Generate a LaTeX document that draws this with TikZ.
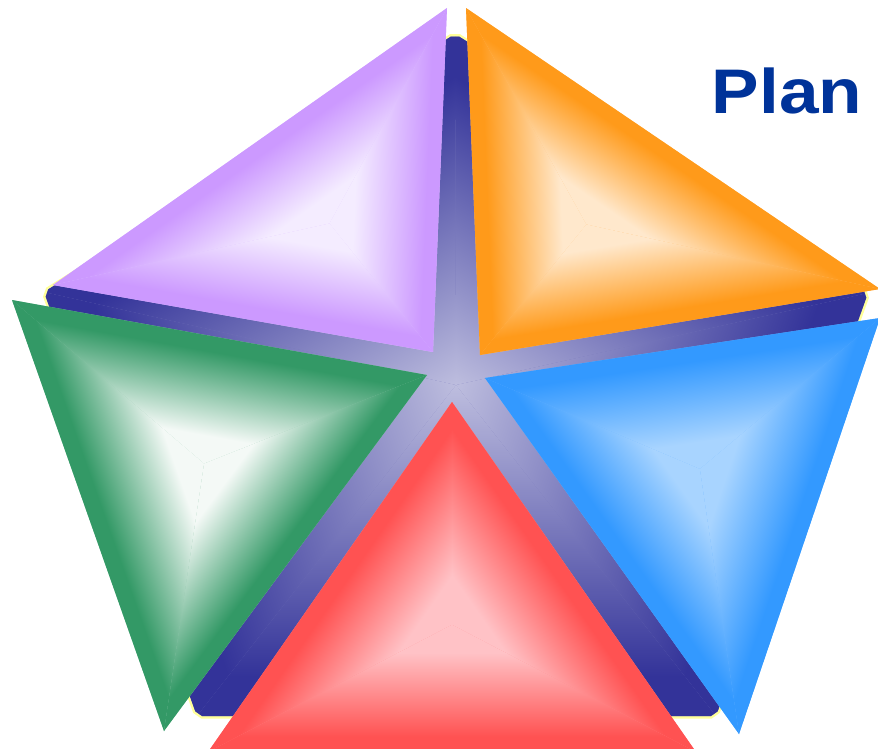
\documentclass[tikz,border=0pt]{standalone}
\usepackage{fontspec}
\setmainfont{Liberation Sans}
\usetikzlibrary{calc}

\definecolor{navy}{HTML}{333399}
\definecolor{lav}{HTML}{CDCDE6}
\definecolor{rim}{HTML}{FFFF99}
\definecolor{planblue}{HTML}{003399}
\definecolor{cpur}{HTML}{CC99FF}\definecolor{lpur}{HTML}{F4ECFF}
\definecolor{cora}{HTML}{FF9A1A}\definecolor{lora}{HTML}{FFE8CC}
\definecolor{cgre}{HTML}{339966}\definecolor{lgre}{HTML}{F4F9F6}
\definecolor{cblu}{HTML}{3399FF}\definecolor{lblu}{HTML}{A8D4FF}
\definecolor{cred}{HTML}{FF5252}\definecolor{lred}{HTML}{FFC2C6}

\pgfdeclareverticalshading{bvnavy}{100bp}{color(0bp)=(navy); color(25bp)=(navy); color(31bp)=(navy); color(80bp)=(lav); color(100bp)=(lav)}
\pgfdeclareverticalshading{bvpur}{100bp}{color(0bp)=(cpur); color(25bp)=(cpur); color(31bp)=(cpur); color(64bp)=(lpur); color(100bp)=(lpur)}
\pgfdeclareverticalshading{bvora}{100bp}{color(0bp)=(cora); color(25bp)=(cora); color(31bp)=(cora); color(64bp)=(lora); color(100bp)=(lora)}
\pgfdeclareverticalshading{bvgre}{100bp}{color(0bp)=(cgre); color(25bp)=(cgre); color(31bp)=(cgre); color(64bp)=(lgre); color(100bp)=(lgre)}
\pgfdeclareverticalshading{bvblu}{100bp}{color(0bp)=(cblu); color(25bp)=(cblu); color(31bp)=(cblu); color(64bp)=(lblu); color(100bp)=(lblu)}
\pgfdeclareverticalshading{bvred}{100bp}{color(0bp)=(cred); color(25bp)=(cred); color(31bp)=(cred); color(64bp)=(lred); color(100bp)=(lred)}

% one piece: triangle P,Q,G shaded from edge PQ (first colour) to G (last colour)
\newcommand\bvPiece[4]{%
  \pgfpointanchor{#1}{center}\pgfgetlastxy\bvPx\bvPy
  \pgfpointanchor{#2}{center}\pgfgetlastxy\bvQx\bvQy
  \pgfpointanchor{#3}{center}\pgfgetlastxy\bvGx\bvGy
  \pgfmathsetmacro\bvAng{atan2((\bvQy)-(\bvPy),(\bvQx)-(\bvPx))}%
  \pgfmathsetmacro\bvLen{veclen((\bvQx)-(\bvPx),(\bvQy)-(\bvPy))}%
  \pgfmathsetmacro\bvDist{veclen((\bvGx)-(\bvPx),(\bvGy)-(\bvPy))*sin(atan2((\bvGy)-(\bvPy),(\bvGx)-(\bvPx))-(\bvAng))}%
  \ifdim\bvDist pt<0pt
    \pgfmathsetmacro\bvAng{(\bvAng)+180}%
    \pgfmathsetmacro\bvDist{-(\bvDist)}%
    \let\bvSx\bvQx \let\bvSy\bvQy
  \else
    \let\bvSx\bvPx \let\bvSy\bvPy
  \fi
  \pgfmathsetmacro\bvLenB{\bvLen+3}%
  \begin{scope}
    \clip (#1) -- (#2) -- (#3) -- cycle;
    \begin{scope}[transform canvas={shift={(\bvSx,\bvSy)},rotate=\bvAng}]
      \shade[shading=#4] (-3pt,0pt) rectangle (\bvLenB pt,\bvDist pt);
    \end{scope}
  \end{scope}}

% bevelled triangle A,B,C around its incentre
\newcommand\bvTri[5]{%
  \pgfpointanchor{#1}{center}\pgfgetlastxy\bvAx\bvAy
  \pgfpointanchor{#2}{center}\pgfgetlastxy\bvBx\bvBy
  \pgfpointanchor{#3}{center}\pgfgetlastxy\bvCx\bvCy
  \pgfmathsetmacro\bvLa{veclen((\bvCx)-(\bvBx),(\bvCy)-(\bvBy))}%
  \pgfmathsetmacro\bvLb{veclen((\bvCx)-(\bvAx),(\bvCy)-(\bvAy))}%
  \pgfmathsetmacro\bvLc{veclen((\bvBx)-(\bvAx),(\bvBy)-(\bvAy))}%
  \pgfmathsetmacro\bvS{\bvLa+\bvLb+\bvLc}%
  \pgfmathsetmacro\bvIx{(\bvLa/\bvS)*(\bvAx)+(\bvLb/\bvS)*(\bvBx)+(\bvLc/\bvS)*(\bvCx)}%
  \pgfmathsetmacro\bvIy{(\bvLa/\bvS)*(\bvAy)+(\bvLb/\bvS)*(\bvBy)+(\bvLc/\bvS)*(\bvCy)}%
  \coordinate (#1in) at (\bvIx pt,\bvIy pt);
  \fill[#5] (#1) -- (#2) -- (#3) -- cycle;
  \bvPiece{#1}{#2}{#1in}{#4}
  \bvPiece{#2}{#3}{#1in}{#4}
  \bvPiece{#3}{#1}{#1in}{#4}}

\begin{document}
\begin{tikzpicture}[x=1pt,y=-1pt]
\useasboundingbox (0,0) rectangle (878,748);

% pentagon
\coordinate (pT) at (455,34);
\coordinate (pR) at (868,293);
\coordinate (pBR) at (716,716);
\coordinate (pBL) at (197,716);
\coordinate (pL) at (44,292);
\coordinate (pC) at (456,385);

\def\penta{($(pT)!5pt!(pL)$) -- ($(pT)!5pt!(pR)$) -- ($(pR)!5pt!(pT)$) -- ($(pR)!5pt!(pBR)$)
  -- ($(pBR)!5pt!(pR)$) -- ($(pBR)!5pt!(pBL)$) -- ($(pBL)!5pt!(pBR)$) -- ($(pBL)!5pt!(pL)$)
  -- ($(pL)!5pt!(pBL)$) -- ($(pL)!5pt!(pT)$) -- cycle}
\draw[rim, line width=5pt, line join=miter] \penta;
\fill[navy!55!lav] \penta;
\begin{scope}
  \clip \penta;
  \bvPiece{pT}{pR}{pC}{bvnavy}
  \bvPiece{pR}{pBR}{pC}{bvnavy}
  \bvPiece{pBR}{pBL}{pC}{bvnavy}
  \bvPiece{pBL}{pL}{pC}{bvnavy}
  \bvPiece{pL}{pT}{pC}{bvnavy}
\end{scope}

% triangles
\coordinate (puA) at (447,8);   \coordinate (puB) at (53,285);  \coordinate (puC) at (433,352);
\coordinate (orA) at (466,8);   \coordinate (orB) at (880,289); \coordinate (orC) at (480,355);
\coordinate (grA) at (12,300);  \coordinate (grB) at (427,375); \coordinate (grC) at (164,731);
\coordinate (blA) at (880,318); \coordinate (blB) at (485,378); \coordinate (blC) at (739,734);
\coordinate (reA) at (452,402); \coordinate (reB) at (208,752); \coordinate (reC) at (696,752);

\bvTri{puA}{puB}{puC}{bvpur}{cpur!50!lpur}
\bvTri{orA}{orB}{orC}{bvora}{cora!50!lora}
\bvTri{grA}{grB}{grC}{bvgre}{cgre!50!lgre}
\bvTri{blA}{blB}{blC}{bvblu}{cblu!50!lblu}
\bvTri{reA}{reB}{reC}{bvred}{cred!50!lred}

\node[anchor=base, inner sep=0pt, text=planblue, xscale=1.13,
      font=\fontsize{63}{63}\selectfont\bfseries] (plan) at (787,113) {Plan};
\end{tikzpicture}
\end{document}
